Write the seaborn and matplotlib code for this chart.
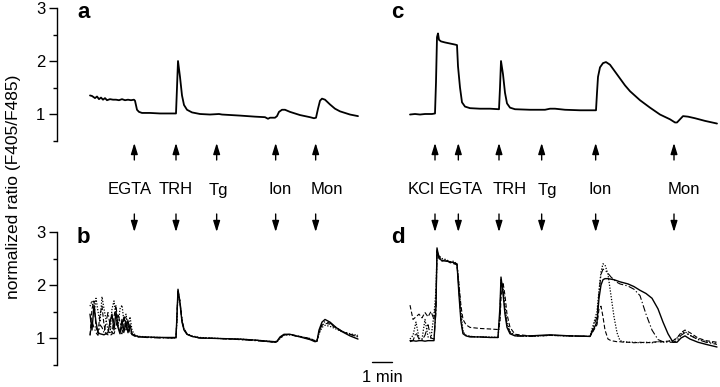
import matplotlib
matplotlib.use("Agg")
import matplotlib.pyplot as plt
import seaborn as sns

sns.set_theme(style="white")
plt.rcParams["font.family"] = ["Liberation Sans", "DejaVu Sans"]

# ---------------- data (time in seconds from start of each record) ----------------
# panel a : single cell, GH3 (left)
a_t = [0, 6, 15, 21, 27, 33, 39, 45, 51, 60, 69, 78, 87, 96, 105, 114, 123, 132, 135, 141,
       147, 156, 180, 210, 240, 258, 261, 264, 270, 276, 282, 291, 306, 330, 360, 387, 396, 450, 495, 525,
       534, 540, 555, 561, 567, 576, 585, 600, 630, 660, 672, 678, 684, 690, 696, 705, 720, 735, 750, 780,
       804]
a_v = [1.35, 1.34, 1.30, 1.33, 1.28, 1.31, 1.27, 1.30, 1.26, 1.28, 1.27, 1.27, 1.26, 1.28, 1.26, 1.27, 1.26, 1.27, 1.25, 1.08,
       1.04, 1.02, 1.02, 1.01, 1.01, 1.01, 1.50, 2.00, 1.70, 1.35, 1.17, 1.08, 1.03, 1.00, 0.99, 1.00, 0.99, 0.97, 0.95, 0.94,
       0.91, 0.93, 0.93, 0.96, 1.04, 1.08, 1.08, 1.04, 0.98, 0.94, 0.92, 0.93, 1.10, 1.25, 1.29, 1.27, 1.18, 1.10, 1.05, 0.99,
       0.96]

# panel b : four cells
b_t = [0, 6, 12, 18, 24, 30, 36, 42, 48, 54, 60, 66, 72, 78, 84, 90, 96, 102, 108, 114, 120, 126, 132, 138, 144,
       153, 168, 210, 258, 261, 264, 270, 276, 282, 291, 306, 330, 390, 450, 495, 534, 555, 561, 570, 582, 600,
       630, 660, 675, 681, 687, 696, 705, 720, 738, 756, 780, 804]
b_solid = [1.45, 1.15, 1.62, 1.30, 1.10, 1.08, 1.07, 1.06, 1.08, 1.10, 1.30, 1.45, 1.15, 1.50, 1.20, 1.08, 1.35, 1.12, 1.30, 1.10, 1.25, 1.08, 1.05, 1.04, 1.03,
           1.02, 1.02, 1.01, 1.01, 1.45, 1.92, 1.65, 1.30, 1.15, 1.07, 1.03, 1.00, 0.99, 0.98, 0.96, 0.94, 0.93, 0.94, 1.02, 1.07, 1.07,
           1.02, 0.97, 0.93, 0.94, 1.15, 1.30, 1.35, 1.30, 1.20, 1.12, 1.04, 0.98]
b_dash = [1.05, 1.55, 1.70, 1.20, 1.10, 1.45, 1.60, 1.25, 1.08, 1.06, 1.05, 1.07, 1.40, 1.62, 1.25, 1.10, 1.08, 1.42, 1.15, 1.35, 1.10, 1.06, 1.05, 1.03, 1.02,
          1.02, 1.01, 1.01, 1.00, 1.40, 1.90, 1.70, 1.35, 1.18, 1.08, 1.03, 1.00, 0.99, 0.97, 0.96, 0.93, 0.92, 0.93, 1.00, 1.06, 1.07,
          1.03, 0.99, 0.95, 0.95, 1.10, 1.24, 1.28, 1.26, 1.19, 1.12, 1.07, 1.03]
b_dot = [1.60, 1.70, 1.45, 1.75, 1.50, 1.30, 1.78, 1.55, 1.35, 1.15, 1.08, 1.55, 1.70, 1.40, 1.20, 1.55, 1.62, 1.30, 1.45, 1.20, 1.40, 1.15, 1.08, 1.05, 1.03,
         1.03, 1.02, 1.01, 1.00, 1.38, 1.88, 1.68, 1.33, 1.16, 1.08, 1.04, 1.01, 0.99, 0.98, 0.96, 0.94, 0.92, 0.93, 0.99, 1.05, 1.06,
         1.03, 0.99, 0.95, 0.95, 1.08, 1.20, 1.24, 1.22, 1.17, 1.12, 1.08, 1.05]
b_dashdot = [1.05, 1.30, 1.20, 1.10, 1.05, 1.25, 1.20, 1.10, 1.30, 1.48, 1.25, 1.10, 1.08, 1.20, 1.45, 1.30, 1.15, 1.10, 1.38, 1.25, 1.10, 1.08, 1.04, 1.03, 1.02,
             1.02, 1.01, 1.00, 1.00, 1.42, 1.90, 1.66, 1.32, 1.16, 1.07, 1.03, 1.00, 0.99, 0.97, 0.95, 0.93, 0.92, 0.93, 1.01, 1.06, 1.06,
             1.02, 0.98, 0.94, 0.94, 1.12, 1.26, 1.31, 1.28, 1.20, 1.13, 1.07, 1.02]

# panel c : single cell (right)
c_t = [0, 15, 30, 45, 66, 75, 78, 81, 84, 87, 93, 105, 120, 135, 141, 144, 150, 156, 165, 180,
       210, 240, 267, 270, 273, 279, 285, 291, 300, 315, 360, 405, 420, 435, 465, 510, 558, 561, 564, 570,
       579, 588, 600, 615, 630, 645, 660, 690, 720, 750, 780, 795, 801, 810, 819, 834, 855, 885, 921]
c_v = [0.99, 1.00, 0.99, 1.00, 1.00, 1.01, 1.60, 2.45, 2.52, 2.40, 2.37, 2.35, 2.33, 2.31, 2.30, 1.90, 1.50, 1.22, 1.14, 1.11,
       1.10, 1.10, 1.09, 1.50, 2.00, 1.75, 1.40, 1.20, 1.12, 1.09, 1.08, 1.08, 1.10, 1.10, 1.08, 1.07, 1.07, 1.40, 1.70, 1.88,
       1.96, 1.98, 1.93, 1.80, 1.67, 1.54, 1.43, 1.26, 1.12, 0.99, 0.90, 0.84, 0.84, 0.90, 0.96, 0.95, 0.92, 0.87, 0.82]

# panel d : four cells
d_t = [0, 9, 18, 27, 36, 45, 54, 63, 72, 78, 81, 87, 96, 108, 120, 132, 141,
       147, 153, 159, 168, 180, 210, 240, 264, 270, 273, 279, 285, 291, 300, 315,
       360, 420, 480, 540, 561, 567, 573, 579, 585, 594, 603, 612, 621, 630,
       642, 654, 672, 690, 708, 726, 744, 759, 774, 789, 801, 813, 825, 840, 864, 888, 921]
d_solid = [0.95, 0.95, 0.94, 0.95, 0.95, 0.94, 0.95, 0.95, 0.95, 1.60, 2.70, 2.50, 2.46, 2.45, 2.44, 2.42, 2.40,
           1.80, 1.30, 1.08, 1.04, 1.02, 1.02, 1.01, 1.01, 1.60, 2.15, 1.85, 1.45, 1.20, 1.08, 1.04,
           1.04, 1.06, 1.04, 1.03, 1.30, 1.75, 2.00, 2.10, 2.12, 2.12, 2.11, 2.10, 2.08, 2.06,
           2.04, 2.02, 1.97, 1.90, 1.84, 1.75, 1.55, 1.30, 1.08, 0.92, 0.92, 1.00, 1.04, 0.98, 0.92, 0.88, 0.83]
d_dot = [0.98, 1.05, 1.30, 1.00, 0.98, 1.35, 1.02, 1.00, 1.45, 1.90, 2.62, 2.55, 2.50, 2.48, 2.44, 2.45, 2.38,
         2.00, 1.50, 1.12, 1.05, 1.03, 1.02, 1.02, 1.01, 1.40, 2.05, 1.95, 1.60, 1.30, 1.12, 1.05,
         1.03, 1.05, 1.04, 1.03, 1.50, 1.90, 2.25, 2.40, 2.38, 2.20, 1.80, 1.40, 1.10, 0.95,
         0.93, 0.92, 0.92, 0.91, 0.92, 0.91, 0.93, 0.92, 0.94, 0.95, 1.00, 1.08, 1.12, 1.05, 0.98, 0.93, 0.90]
d_dash = [1.62, 1.35, 1.40, 1.45, 1.38, 1.48, 1.40, 1.50, 1.35, 1.70, 2.65, 2.55, 2.45, 2.48, 2.42, 2.40, 2.38,
          2.00, 1.60, 1.35, 1.25, 1.20, 1.18, 1.17, 1.16, 1.30, 1.75, 2.05, 1.80, 1.45, 1.20, 1.07,
          1.04, 1.05, 1.04, 1.03, 1.25, 1.55, 1.60, 1.40, 1.15, 0.98, 0.95, 0.94, 0.93, 0.93,
          0.92, 0.92, 0.91, 0.92, 0.91, 0.92, 0.93, 0.93, 0.94, 0.95, 1.00, 1.10, 1.15, 1.10, 1.00, 0.95, 0.92]
d_dashdot = [0.93, 0.95, 1.10, 0.98, 0.96, 1.05, 1.25, 1.00, 0.98, 1.50, 2.68, 2.52, 2.47, 2.46, 2.43, 2.41, 2.39,
             1.90, 1.35, 1.10, 1.05, 1.03, 1.02, 1.01, 1.01, 1.50, 2.10, 1.90, 1.50, 1.25, 1.10, 1.04,
             1.03, 1.05, 1.04, 1.03, 1.40, 1.85, 2.20, 2.30, 2.28, 2.22, 2.15, 2.10, 2.05, 2.02,
             2.00, 1.98, 1.92, 1.80, 1.45, 1.15, 0.97, 0.93, 0.92, 0.92, 0.95, 1.05, 1.10, 1.05, 0.97, 0.92, 0.88]

# drug additions (s)
left_events = ["EGTA", "TRH", "Tg", "Ion", "Mon"]
left_event_t = [133, 258, 380, 557, 677]
right_events = ["KCl", "EGTA", "TRH", "Tg", "Ion", "Mon"]
right_event_t = [75, 145, 267, 395, 557, 792]

y_ticks = [1, 2, 3]
y_label = "normalized ratio (F405/F485)"
scale_bar_s = 60
scale_label = "1 min"

# ---------------- layout ----------------
W, H = 720, 387
fig = plt.figure(figsize=(W / 100, H / 100), dpi=100)


def rect(x0, x1, ytop, ybot):
    return [x0 / W, 1 - ybot / H, (x1 - x0) / W, (ybot - ytop) / H]


ax_a = fig.add_axes(rect(57, 362, 8, 140.5))
ax_b = fig.add_axes(rect(57, 362, 232, 364.5))
ax_c = fig.add_axes(rect(400, 720, 8, 140.5))
ax_d = fig.add_axes(rect(400, 720, 232, 364.5))

for ax in (ax_a, ax_b, ax_c, ax_d):
    ax.set_facecolor("none")
    ax.set_ylim(0.5, 3.0)
    ax.set_xticks([])
    for s in ax.spines.values():
        s.set_visible(False)
    ax.grid(False)
    ax.set_xlabel("")
    ax.set_ylabel("")

for ax in (ax_a, ax_b):
    ax.set_xlim(-99, 816)
    sp = ax.spines["left"]
    sp.set_visible(True)
    sp.set_color("black")
    sp.set_linewidth(1.0)
    sp.set_bounds(0.5, 3.0)
    ax.set_yticks(y_ticks)
    ax.set_yticklabels([str(v) for v in y_ticks])
    ax.set_yticks([0.5, 1.5, 2.5], minor=True)
    ax.tick_params(axis="y", which="major", direction="out", length=5.8, width=1.0,
                   color="black", labelsize=12, pad=2.5, left=True, labelcolor="black")
    ax.tick_params(axis="y", which="minor", direction="out", length=3.0, width=1.0,
                   color="black", left=True)
for ax in (ax_c, ax_d):
    ax.set_xlim(-30, 930)
    ax.set_yticks([])

# ---------------- traces ----------------
sns.lineplot(x=a_t, y=a_v, ax=ax_a, color="black", linewidth=1.3, estimator=None, sort=False, legend=False)
sns.lineplot(x=c_t, y=c_v, ax=ax_c, color="black", linewidth=1.3, estimator=None, sort=False, legend=False)

styles = [("-", 1.0), ((0, (4, 2)), 0.8), ((0, (1, 1.3)), 0.9), ((0, (6, 2, 1.2, 2)), 0.8)]
for vals, (ls, lw) in zip([b_solid, b_dash, b_dot, b_dashdot], styles):
    sns.lineplot(x=b_t, y=vals, ax=ax_b, color="black", linewidth=lw, linestyle=ls,
                 estimator=None, sort=False, legend=False)
for vals, (ls, lw) in zip([d_solid, d_dash, d_dot, d_dashdot], styles):
    sns.lineplot(x=d_t, y=vals, ax=ax_d, color="black", linewidth=lw, linestyle=ls,
                 estimator=None, sort=False, legend=False)

for ax in (ax_a, ax_b, ax_c, ax_d):
    ax.set_xlabel("")
    ax.set_ylabel("")

# ---------------- arrows & labels ----------------
arrow_props = dict(arrowstyle="-|>,head_length=0.55,head_width=0.17", color="black",
                   lw=1.0, shrinkA=0, shrinkB=0)


def event_marks(ax, times, labels, label_dx):
    for t, lab, dx in zip(times, labels, label_dx):
        ax.annotate("", xy=(t, H - 143), xytext=(t, H - 160),
                    xycoords=("data", "figure pixels"), textcoords=("data", "figure pixels"),
                    arrowprops=arrow_props, annotation_clip=False)
        ax.annotate("", xy=(t, H - 232), xytext=(t, H - 214),
                    xycoords=("data", "figure pixels"), textcoords=("data", "figure pixels"),
                    arrowprops=arrow_props, annotation_clip=False)
        ax.annotate(lab, xy=(t + dx, H - 190), xycoords=("data", "figure pixels"),
                    ha="center", va="center", fontsize=12, color="black", annotation_clip=False)


event_marks(ax_a, left_event_t, left_events, [-14, 0, 4, 12, 34])
event_marks(ax_c, right_event_t, right_events, [-42, 7, 32, 16, 13, 30])

# panel letters
for lab, x, yb in [("a", 77, 18.5), ("b", 77, 243), ("c", 391, 18.5), ("d", 391, 243)]:
    fig.text(x / W, 1 - yb / H, lab, fontsize=16, fontweight="bold", ha="left", va="baseline",
             color="black")

# y label
fig.text(14 / W, 1 - 187 / H, y_label, rotation=90, ha="center", va="center",
         fontsize=12.5, color="black")

# time scale bar
x0 = (372 - 90) * 3
ax_b.plot([x0, x0 + scale_bar_s * 1.0], [0.547, 0.547], color="black", lw=1.0, clip_on=False)
ax_b.annotate(scale_label, xy=(x0 + scale_bar_s / 2, H - 377), xycoords=("data", "figure pixels"),
              ha="center", va="center", fontsize=12, color="black", annotation_clip=False)

fig.savefig("out.png", dpi=100)
